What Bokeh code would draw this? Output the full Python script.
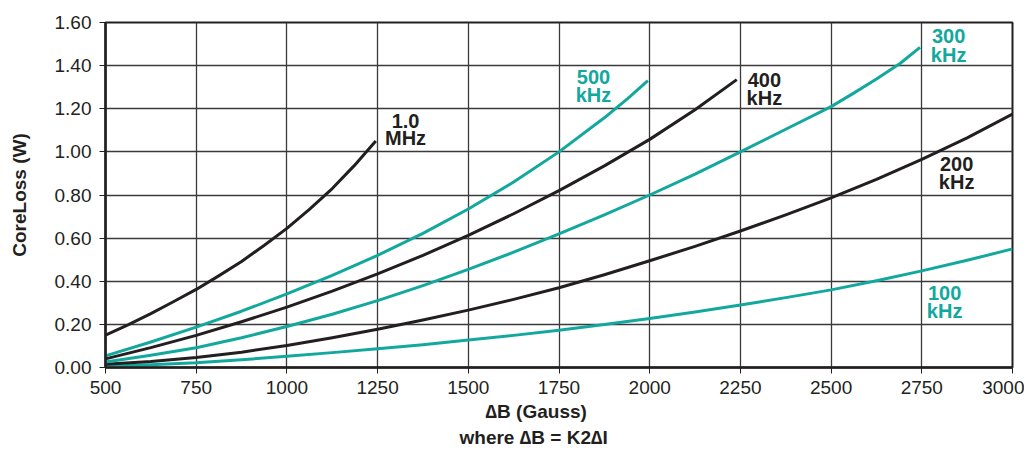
from bokeh.plotting import figure
from bokeh.models import Label, FixedTicker, Range1d, CustomJSTickFormatter, Title
from bokeh.embed import file_html
from bokeh.resources import INLINE

# ---- data ----
x_1mhz = [500, 562, 625, 687, 750, 812, 875, 937, 1000, 1062, 1125, 1185, 1245]
y_1mhz = [0.15, 0.198, 0.25, 0.305, 0.362, 0.425, 0.492, 0.566, 0.645, 0.733, 0.83, 0.935, 1.05]

x_500k = [500, 625, 750, 875, 1000, 1125, 1250, 1375, 1500, 1625, 1750, 1875, 1940, 1995]
y_500k = [0.054, 0.118, 0.187, 0.261, 0.341, 0.427, 0.52, 0.622, 0.735, 0.86, 1.0, 1.158, 1.248, 1.33]

x_400k = [500, 625, 750, 875, 1000, 1125, 1250, 1375, 1500, 1625, 1750, 1875, 2000, 2125, 2240]
y_400k = [0.04, 0.092, 0.149, 0.212, 0.28, 0.354, 0.434, 0.52, 0.613, 0.713, 0.82, 0.935, 1.058, 1.195, 1.335]

x_300k = [500, 625, 750, 875, 1000, 1125, 1250, 1375, 1500, 1625, 1750, 1875, 2000, 2125, 2250, 2375, 2500, 2560, 2625, 2690, 2745]
y_300k = [0.026, 0.057, 0.092, 0.138, 0.19, 0.247, 0.31, 0.38, 0.455, 0.535, 0.62, 0.708, 0.80, 0.897, 1.0, 1.105, 1.21, 1.27, 1.338, 1.41, 1.485]

x_200k = [500, 625, 750, 875, 1000, 1125, 1250, 1375, 1500, 1625, 1750, 1875, 2000, 2125, 2250, 2375, 2500, 2625, 2750, 2875, 3000]
y_200k = [0.015, 0.028, 0.046, 0.071, 0.102, 0.138, 0.177, 0.22, 0.266, 0.316, 0.37, 0.43, 0.495, 0.562, 0.633, 0.708, 0.787, 0.872, 0.965, 1.065, 1.175]

x_100k = [500, 625, 750, 875, 1000, 1125, 1250, 1375, 1500, 1625, 1750, 1875, 2000, 2125, 2250, 2375, 2500, 2625, 2750, 2875, 3000]
y_100k = [0.006, 0.013, 0.022, 0.036, 0.052, 0.069, 0.087, 0.106, 0.127, 0.149, 0.173, 0.199, 0.227, 0.257, 0.29, 0.324, 0.36, 0.402, 0.448, 0.497, 0.55]

x_ticks = [500, 750, 1000, 1250, 1500, 1750, 2000, 2250, 2500, 2750, 3000]
y_ticks = [0.0, 0.2, 0.4, 0.6, 0.8, 1.0, 1.2, 1.4, 1.6]

# curve labels: (line1, line2, x, y1, y2, colour key)
curve_labels = [
    ("1.0", "MHz", 1327, 1.141, 1.064, "black"),
    ("500", "kHz", 1845, 1.348, 1.262, "teal"),
    ("400", "kHz", 2316, 1.334, 1.251, "black"),
    ("300", "kHz", 2824, 1.539, 1.451, "teal"),
    ("200", "kHz", 2846, 0.943, 0.859, "black"),
    ("100", "kHz", 2813, 0.347, 0.263, "teal"),
]

x_title_1 = "\u2206B (Gauss)"
x_title_2 = "where \u2206B = K2\u2206I"
y_title = "CoreLoss (W)"

TEAL = "#13a89e"
BLACK = "#231f20"
COLORS = {"teal": TEAL, "black": BLACK}
FONT = "Liberation Sans"

p = figure(width=1024, height=447, output_backend="svg", toolbar_location=None,
           x_range=Range1d(500, 3000), y_range=Range1d(0, 1.6),
           min_border_left=105, min_border_right=12, min_border_top=22, min_border_bottom=78)
p.background_fill_color = "white"
p.border_fill_color = "white"
p.outline_line_color = BLACK
p.outline_line_width = 2

for ax in (p.xaxis[0], p.yaxis[0]):
    ax.axis_line_color = BLACK
    ax.axis_line_width = 2.5
    ax.major_tick_line_color = BLACK
    ax.major_tick_line_width = 1
    ax.major_tick_out = 6
    ax.major_tick_in = 0
    ax.minor_tick_out = 0
    ax.minor_tick_in = 0
    ax.major_label_text_font = FONT
    ax.major_label_text_font_size = "19px"
    ax.major_label_text_color = BLACK

p.xaxis.ticker = FixedTicker(ticks=x_ticks)
p.yaxis.ticker = FixedTicker(ticks=y_ticks)
p.yaxis.formatter = CustomJSTickFormatter(code="return tick.toFixed(2);")
p.xaxis.major_label_standoff = 7
p.yaxis.major_label_standoff = 8

p.yaxis.axis_label = y_title
p.yaxis.axis_label_text_font = FONT
p.yaxis.axis_label_text_font_style = "bold"
p.yaxis.axis_label_text_font_size = "19px"
p.yaxis.axis_label_text_color = BLACK
p.yaxis.axis_label_standoff = 22

p.grid.grid_line_color = "#3a3a3a"
p.grid.grid_line_width = 1.3
p.grid.grid_line_alpha = 1.0

series = [
    (x_100k, y_100k, TEAL),
    (x_200k, y_200k, BLACK),
    (x_300k, y_300k, TEAL),
    (x_400k, y_400k, BLACK),
    (x_500k, y_500k, TEAL),
    (x_1mhz, y_1mhz, BLACK),
]
for xs, ys, c in series:
    p.line(xs, ys, line_color=c, line_width=3, line_join="round", line_cap="butt")

for l1, l2, x, y1, y2, ck in curve_labels:
    for txt, yy in ((l1, y1), (l2, y2)):
        p.add_layout(Label(x=x, y=yy, text=txt, text_align="center", text_baseline="middle",
                           text_font=FONT, text_font_style="bold", text_font_size="20px",
                           text_color=COLORS[ck]))

# x-axis title: two lines below the axis, centred a little left of the frame centre
for txt, off, so in ((x_title_1, 380, 5), (x_title_2, 354, 0)):
    p.add_layout(Title(text=txt, align="left", offset=off, standoff=so,
                       text_font=FONT, text_font_style="bold", text_font_size="19px",
                       text_color=BLACK), "below")

open("out.html", "w").write(file_html(p, INLINE))
